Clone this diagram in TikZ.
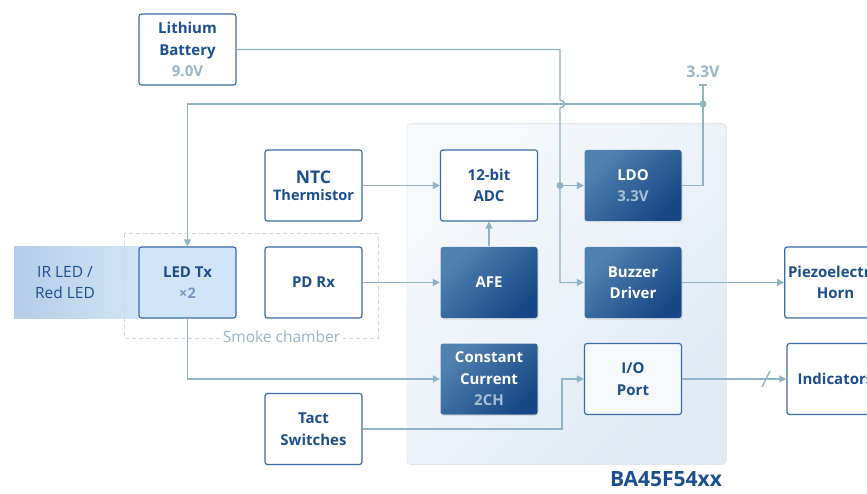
\documentclass[tikz,border=0pt]{standalone}
\usepackage{fontspec}
\setmainfont{Open Sans}
\usetikzlibrary{arrows.meta,positioning,shadows}
\definecolor{wirec}{HTML}{90B3C8}
\definecolor{edge}{HTML}{3A6BA8}
\definecolor{ink}{HTML}{1D4F8E}
\definecolor{mute}{HTML}{9AB6CA}
\definecolor{darkA}{HTML}{5182AF}
\definecolor{darkB}{HTML}{174786}
\definecolor{soft}{HTML}{A8C0D5}
\definecolor{chipA}{HTML}{F6F9FC}
\definecolor{chipB}{HTML}{E0EAF4}
\definecolor{ledfill}{HTML}{D0E5F8}
\definecolor{irA}{HTML}{B3CDE8}
\definecolor{irB}{HTML}{D2E5F6}
\definecolor{chamber}{HTML}{C8D9E3}

\begin{document}
\begin{tikzpicture}[
x=1pt, y=-1pt,
blk/.style={
	draw=edge, line width=1.2pt, rounded corners=2.5pt,
	minimum width=97pt, minimum height=71pt,
	align=center, text=ink, fill=white,
	font=\bfseries\fontsize{15}{21.5}\selectfont
},
dark/.style={
	blk, draw=none, text=white,
	top color=darkA, bottom color=darkB, shading angle=45,
	drop shadow={opacity=0.18, shadow xshift=1pt, shadow yshift=-1.5pt}
},
wire/.style={draw=wirec, line width=1.4pt},
>={Triangle[length=7pt,width=7pt]},
dot/.style={circle, fill=wirec, inner sep=0pt, minimum size=7pt},
note/.style={text=mute, font=\bfseries\fontsize{16}{18}\selectfont}
]
\useasboundingbox (0,0) rectangle (867,494);
\clip (0,0) rectangle (867,494);

\fill[top color=chipA, bottom color=chipB, shading angle=45, rounded corners=3pt]
	(407,124) rectangle (726,464);
\draw[chipB!70!white, line width=0.8pt, rounded corners=3pt] (407,124) rectangle (726,464);
\node[text=ink, font=\bfseries\fontsize{21}{24}\selectfont] (chip) at (666,479) {BA45F54xx};

\fill[left color=irA, right color=irB] (14,247) rectangle (139,318);
\node[text=ink, align=center, font=\fontsize{15.5}{21.5}\selectfont] (ir) at (65,282.5) {IR LED /\\Red LED};

\draw[chamber, line width=1pt, dash pattern=on 4pt off 3pt] (124,234) rectangle (378,338);
\node[fill=white, text=mute, inner ysep=1pt, font=\fontsize{15.5}{18}\selectfont] (smoke) at (281.5,337) {Smoke chamber};

\node[blk] (bat) at (187.5,49.5) {Lithium\\Battery\\{\color{mute}9.0V}};
\node[blk] (ntc) at (313.5,185.5) {{\fontsize{17.5}{20}\selectfont NTC}\\[-4pt]{\fontsize{14.5}{16}\selectfont Thermistor}};
\node[blk, fill=ledfill] (led) at (187.5,282.5) {LED Tx\\{\color{edge!70!white}\fontsize{14.5}{16}\selectfont ×2}};
\node[blk] (pd) at (313.5,282.5) {PD Rx};
\node[blk] (tact) at (313.5,429) {Tact\\Switches};

\node[blk] (adc) at (489,185.5) {12-bit\\ADC};
\node[dark] (afe) at (489,282.5) {AFE};
\node[dark] (cc) at (489,379) {Constant\\Current\\{\color{soft}2CH}};
\node[dark] (ldo) at (633,185.5) {LDO\\{\color{soft}3.3V}};
\node[dark] (buz) at (633,282.5) {Buzzer\\Driver};
\node[blk, fill=chipA] (io) at (633,379) {I/O\\Port};

\node[blk] (horn) at (835.5,282.5) {Piezoelectric\\Horn};
\node[blk] (ind) at (835.5,379) {Indicators};

\coordinate (rail) at (703,104);
\coordinate (top) at (703,85);
\coordinate (bus) at (560,185.5);

\draw[wire, ->] (bat.east) -- (560,49.5) -- (560,100)
	.. controls (566,100) and (566,108) .. (560,108) |- (buz.west);
\draw[wire, ->] (bus) -- (ldo.west);
\node[dot] at (bus) {};

\draw[wire, ->] (rail) -- (187.5,104) -- (led.north);
\draw[wire] (top) -- (rail) |- (ldo.east);
\draw[wire] (699,85) -- (707,85);
\node[dot] at (rail) {};
\node[note] (vcc) at (703,72) {3.3V};

\foreach \a/\b in {ntc/adc, afe/adc, pd/afe, buz/horn, io/ind}
{
	\draw[wire, ->] (\a) -- (\b);
}
\draw[wire, ->] (led.south) |- (cc.west);
\draw[wire, ->] (tact.east) -- (562,429) |- (io.west);
\draw[wire] (762,387) -- (770,371);
\end{tikzpicture}
\end{document}
